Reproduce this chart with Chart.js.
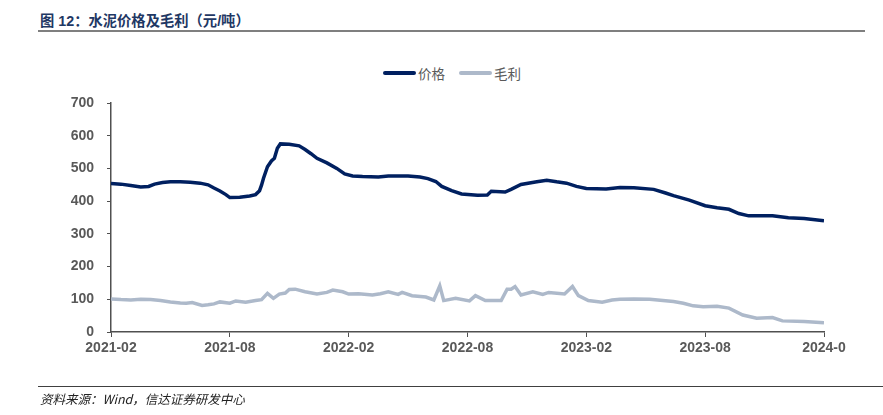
<!DOCTYPE html>
<html>
<head>
<meta charset="utf-8">
<script src="https://cdn.jsdelivr.net/npm/chart.js@4.4.1/dist/chart.umd.min.js"></script>
<style>
  html, body { margin: 0; padding: 0; background: #fff; }
  #wrap { position: relative; width: 883px; height: 415px; overflow: hidden; font-family: "Liberation Sans", Arial, "Noto Sans CJK SC", sans-serif; }
  #title { position: absolute; left: 40px; top: 9px; font-size: 14.3px; font-weight: bold; color: #1f3864; font-family: "Liberation Sans", Arial, "Noto Sans CJK SC", sans-serif; }
  #titleRule { position: absolute; left: 38px; top: 30px; width: 827px; height: 2px; background: #7f7f7f; }
  #footRule { position: absolute; left: 38px; top: 386px; width: 845px; height: 1px; background: #404040; }
  #foot { position: absolute; left: 40px; top: 389px; font-size: 12.5px; font-style: italic; color: #222; font-family: "Noto Sans CJK SC", sans-serif; }
  #legend { position: absolute; top: 63px; left: 383px; font-size: 13.5px; color: #595959; font-family: "Noto Sans CJK SC", sans-serif; display: flex; align-items: center; }
  .sw { display: inline-block; width: 33px; height: 4px; border-radius: 2px; margin-right: 2px; }
  canvas { position: absolute; left: 0; top: 0; }
</style>
</head>
<body>
<div id="wrap">
  <div id="title">图 12：水泥价格及毛利（元/吨）</div>
  <div id="titleRule"></div>
  <div id="legend">
    <span class="sw" style="background:#002060"></span><span>价格</span>
    <span class="sw" style="background:#adb9ca; margin-left:14px"></span><span>毛利</span>
  </div>
  <canvas id="chart" width="883" height="415"></canvas>
  <div id="footRule"></div>
  <div id="foot">资料来源：Wind，信达证券研发中心</div>
</div>
<script>
// x values are months counted from 2021-02
const tickLabels = ['2021-02', '2021-08', '2022-02', '2022-08', '2023-02', '2023-08', '2024-0'];

const priceMonths = [0, 0.5, 1.0, 1.5, 1.9, 2.2, 2.6, 3.0, 3.5, 4.0, 4.5, 4.9, 5.2, 5.5, 5.8, 6.0, 6.5, 7.0, 7.3, 7.5, 7.6, 7.7, 7.9, 8.1, 8.25, 8.4, 8.55, 9.0, 9.5, 9.8, 10.1, 10.4, 10.9, 11.4, 11.8, 12.2, 12.7, 13.5, 14.0, 15.0, 15.6, 16.0, 16.4, 16.7, 17.2, 17.7, 18.5, 19.0, 19.2, 19.9, 20.2, 20.7, 21.5, 22.0, 22.5, 23.0, 23.5, 24.0, 25.0, 25.7, 26.4, 27.4, 28.0, 28.4, 29.2, 30.0, 30.6, 31.2, 31.7, 32.2, 33.4, 34.2, 35.0, 36.0];
const priceValues = [454, 452, 448, 443, 445, 452, 457, 459, 459, 458, 455, 450, 440, 431, 420, 411, 412, 416, 420, 432, 449, 470, 505, 523, 531, 562, 575, 574, 569, 558, 545, 531, 517, 500, 483, 477, 475, 474, 477, 477, 474, 469, 460, 445, 432, 422, 418, 419, 430, 428, 436, 451, 459, 464, 459, 455, 445, 439, 437, 442, 441, 436, 425, 417, 403, 386, 380, 375, 362, 355, 355, 349, 347, 340];

const marginMonths = [0, 0.5, 1.0, 1.5, 2.0, 2.5, 3.0, 3.5, 3.8, 4.1, 4.6, 4.9, 5.2, 5.5, 6.0, 6.3, 6.8, 7.3, 7.6, 7.9, 8.2, 8.5, 8.8, 9.0, 9.3, 9.8, 10.4, 10.9, 11.2, 11.7, 12.0, 12.5, 13.2, 13.6, 14.0, 14.5, 14.7, 15.2, 15.9, 16.3, 16.6, 16.8, 17.4, 18.1, 18.4, 18.9, 19.7, 20.0, 20.2, 20.4, 20.7, 21.3, 21.8, 22.1, 22.9, 23.3, 23.6, 24.1, 24.8, 25.3, 25.7, 26.4, 27.2, 28.4, 28.9, 29.4, 29.9, 30.6, 31.2, 31.9, 32.6, 33.4, 33.9, 35.0, 35.8, 36.0];
const marginValues = [101, 99, 98, 100, 99, 96, 92, 89, 88, 90, 81, 83, 86, 92, 88, 95, 91, 96, 99, 118, 103, 116, 119, 130, 131, 123, 116, 121, 128, 123, 116, 117, 113, 117, 123, 115, 121, 111, 107, 98, 141, 96, 103, 95, 111, 96, 96, 131, 131, 139, 113, 123, 115, 121, 116, 139, 111, 96, 91, 98, 100, 101, 100, 93, 88, 80, 77, 79, 73, 52, 42, 44, 34, 32, 29, 28];

const toPoints = (xs, ys) => xs.map((x, i) => ({ x: x, y: ys[i] }));

const axisGray = '#505050';
const tickFont = { family: '"Liberation Sans", Arial, sans-serif', size: 14, weight: 'bold' };

new Chart(document.getElementById('chart').getContext('2d'), {
    type: 'line',
    data: {
        datasets: [
            {
                label: '价格',
                data: toPoints(priceMonths, priceValues),
                borderColor: '#002060',
                borderWidth: 3.5,
                pointRadius: 0,
                tension: 0
            },
            {
                label: '毛利',
                data: toPoints(marginMonths, marginValues),
                borderColor: '#adb9ca',
                borderWidth: 3.5,
                pointRadius: 0,
                tension: 0
            }
        ]
    },
    options: {
        responsive: false,
        animation: false,
        layout: { padding: { left: 0, top: 103, right: 59, bottom: 53 } },
        plugins: {
            legend: { display: false },
            tooltip: { enabled: false }
        },
        scales: {
            x: {
                type: 'linear',
                min: 0,
                max: 36,
                afterBuildTicks: (scale) => {
                    scale.ticks = tickLabels.map((_, i) => ({ value: i * 6 }));
                },
                afterFit: (scale) => { scale.height = 30; },
                ticks: {
                    autoSkip: false,
                    maxRotation: 0,
                    color: '#595959',
                    font: tickFont,
                    padding: 3,
                    callback: (value) => tickLabels[Math.round(value / 6)]
                },
                grid: { drawOnChartArea: false, drawTicks: true, tickLength: 5, color: axisGray },
                border: { color: axisGray, width: 1.5 }
            },
            y: {
                min: 0,
                max: 700,
                afterFit: (scale) => { scale.width = 111; },
                ticks: {
                    stepSize: 100,
                    color: '#595959',
                    font: tickFont,
                    padding: 13
                },
                grid: { drawOnChartArea: false, drawTicks: true, tickLength: 4, color: axisGray },
                border: { color: axisGray, width: 1.5 }
            }
        }
    }
});
</script>
</body>
</html>
